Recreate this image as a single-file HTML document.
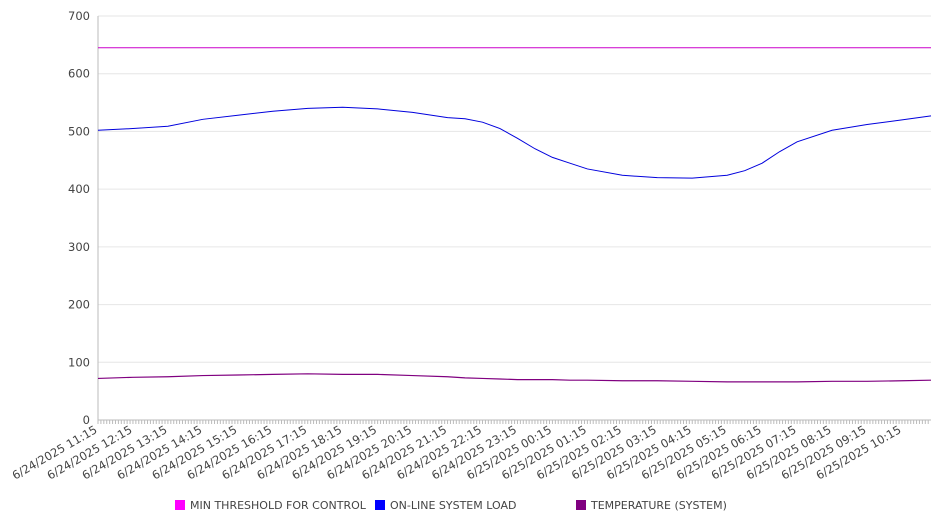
<!DOCTYPE html>
<html><head><meta charset="utf-8"><style>
body{margin:0;background:#fff;font-family:"DejaVu Sans","Liberation Sans",sans-serif;}
svg text{font-family:"DejaVu Sans","Liberation Sans",sans-serif;}
</style></head><body>
<svg id="c" width="946" height="526"></svg>
<script>
const hours=[0,1,2,3,4,5,6,7,8,9,10,10.5,11,11.5,12,12.5,13,13.5,14,15,16,17,18,18.5,19,19.5,20,21,22,23,23.83];
const loadValues=[502,505,509,521,528,535,540,542,539,533,524,522,516,505,488,470,455,445,435,424,420,419,424,432,445,465,482,502,512,520,527];
const tempValues=[72,74,75,77,78,79,80,79,79,77,75,73,72,71,70,70,70,69,69,68,68,67,66,66,66,66,66,67,67,68,69];
const thresholdValue=645;
const yTicks=[0,100,200,300,400,500,600,700];
const xLabels=["6/24/2025 11:15","6/24/2025 12:15","6/24/2025 13:15","6/24/2025 14:15","6/24/2025 15:15","6/24/2025 16:15","6/24/2025 17:15","6/24/2025 18:15","6/24/2025 19:15","6/24/2025 20:15","6/24/2025 21:15","6/24/2025 22:15","6/24/2025 23:15","6/25/2025 00:15","6/25/2025 01:15","6/25/2025 02:15","6/25/2025 03:15","6/25/2025 04:15","6/25/2025 05:15","6/25/2025 06:15","6/25/2025 07:15","6/25/2025 08:15","6/25/2025 09:15","6/25/2025 10:15"];
const NS="http://www.w3.org/2000/svg";
const svg=document.getElementById('c');
const X0=98,X1=931,Y0=420,Y1=16,HMAX=23.83;
const x=h=>X0+(X1-X0)*h/HMAX;
const y=v=>Y0-(Y0-Y1)*v/700;
function el(t,a){const e=document.createElementNS(NS,t);for(const k in a)e.setAttribute(k,a[k]);svg.appendChild(e);return e;}
yTicks.forEach(v=>{
  const g=el('line',{x1:X0,x2:X1,y1:y(v),y2:y(v),stroke:v===0?'#bbb':'#e6e6e6','stroke-width':1});
  
  
  const t=el('text',{x:90,y:y(v)+4,'text-anchor':'end','font-size':11.5,fill:'#444'});
  t.textContent=v;
  
  
});
const ax=el('line',{x1:X0,x2:X0,y1:Y1,y2:Y0,stroke:'#bbb'});


for(let m=0;m<=HMAX*12;m++){
  const tk=el('line',{x1:x(m/12),x2:x(m/12),y1:Y0,y2:Y0+4,stroke:'#bbb'});
  
  
}
xLabels.forEach((s,i)=>{
  const t=el('text',{x:x(i),y:Y0+12,'text-anchor':'end','font-size':11.5,fill:'#444',transform:`rotate(-30 ${x(i)} ${Y0+12})`});
  t.textContent=s;
  
  
});
const th=el('line',{x1:X0,x2:X1,y1:y(thresholdValue),y2:y(thresholdValue),stroke:'#cc00cc','stroke-width':1});


const lp=el('path',{d:hours.map((h,i)=>(i?'L':'M')+x(h)+','+y(loadValues[i])).join(''),fill:'none',stroke:'#0000dd','stroke-width':1});


const tp=el('path',{d:hours.map((h,i)=>(i?'L':'M')+x(h)+','+y(tempValues[i])).join(''),fill:'none',stroke:'#800080','stroke-width':1.2});


[["MIN THRESHOLD FOR CONTROL","#ff00ff",175],["ON-LINE SYSTEM LOAD","#0000ff",375],["TEMPERATURE (SYSTEM)","#800080",576]].forEach(([n,c,lx])=>{
  const r=el('rect',{x:lx,y:500,width:10,height:10,fill:c});
  
  
  const t=el('text',{x:lx+15,y:509,'font-size':11,fill:'#444'});
  t.textContent=n;
  
  
});
</script>
</body></html>
